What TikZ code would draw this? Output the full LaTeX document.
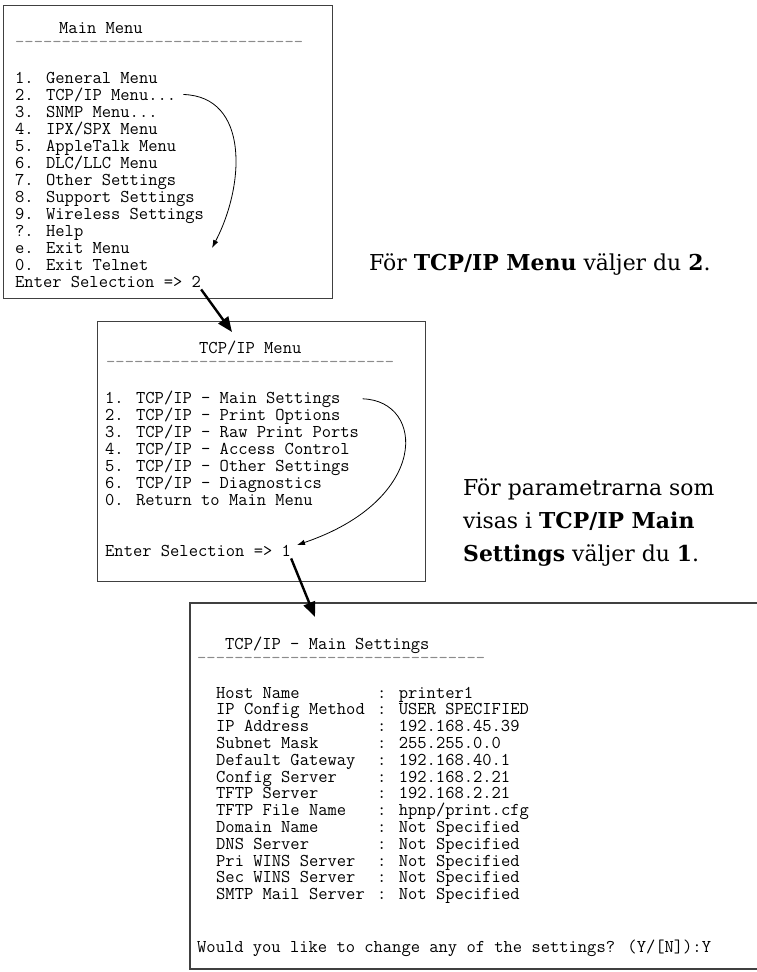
\documentclass[tikz,border=0pt]{standalone}
\usepackage{fontspec}
\newfontfamily\notefont{DejaVu Serif}
\usetikzlibrary{arrows.meta}

\tikzset{
  screen/.style={draw=black!75, line width=1.3bp, inner sep=0pt, anchor=north west},
  mono/.style={font=\ttfamily\fontsize{18.1pt}{17pt}\selectfont, inner sep=0pt, anchor=base west, text=black},
  note/.style={font=\notefont\fontsize{22pt}{33pt}\selectfont, inner sep=0pt, anchor=base west},
  pick/.style={line width=0.8bp, -{Latex[length=8bp,width=5.5bp]}},
  nextstep/.style={line width=2.4bp, -{Triangle[length=15bp,width=12bp]}},
}

% a row of 31 grey hyphens, kept apart so no ligature forms
\newcommand\dashrow{\textcolor{black!45}{\foreach \j in {1,...,31}{-\kern0pt}}}

% screen heading: an indented title sitting 14bp above the hyphen row
\newcommand\screenhead[2]{\rlap{\raisebox{14bp}{\hspace*{#1}#2}}\dashrow}

% one "name : value" row of the settings screen
\newcommand\settingrow[4]{%
  \node[mono] (#1k) at (216,#2) {#3};
  \node[mono] (#1v) at (377,#2) {: #4};}

\begin{document}
\begin{tikzpicture}[x=1bp, y=-1bp]
\useasboundingbox (0,0) rectangle (757,972);

% ---------- Main Menu screen ----------
\node[screen, minimum width=329bp, minimum height=293bp] (mainbox) at (3,5) {};
\node[mono] (mhead) at (15,47) {\screenhead{44bp}{Main Menu}};
\node[mono] (m1)  at (15,83)  {1. General Menu};
\node[mono] (m2)  at (15,100) {2. TCP/IP Menu...};
\node[mono] (m3)  at (15,117) {3. SNMP Menu...};
\node[mono] (m4)  at (15,134) {4. IPX/SPX Menu};
\node[mono] (m5)  at (15,151) {5. AppleTalk Menu};
\node[mono] (m6)  at (15,168) {6. DLC/LLC Menu};
\node[mono] (m7)  at (15,185) {7. Other Settings};
\node[mono] (m8)  at (15,202) {8. Support Settings};
\node[mono] (m9)  at (15,219) {9. Wireless Settings};
\node[mono] (m10) at (15,236) {?. Help};
\node[mono] (m11) at (15,253) {e. Exit Menu};
\node[mono] (m12) at (15,270) {0. Exit Telnet};
\node[mono] (m13) at (15,287) {Enter Selection => 2};

\node[note] (hint1) at (369,270) {För \textbf{TCP/IP Menu} väljer du \textbf{2}.};

% ---------- TCP/IP Menu screen ----------
\node[screen, minimum width=328bp, minimum height=260bp] (tcpbox) at (97,321) {};
\node[mono] (thead) at (106,367) {\screenhead{93bp}{TCP/IP Menu}};
\node[mono] (t1) at (105,403) {1. TCP/IP - Main Settings};
\node[mono] (t2) at (105,420) {2. TCP/IP - Print Options};
\node[mono] (t3) at (105,437) {3. TCP/IP - Raw Print Ports};
\node[mono] (t4) at (105,454) {4. TCP/IP - Access Control};
\node[mono] (t5) at (105,471) {5. TCP/IP - Other Settings};
\node[mono] (t6) at (105,488) {6. TCP/IP - Diagnostics};
\node[mono] (t7) at (105,505) {0. Return to Main Menu};
\node[mono] (tE) at (105,556) {Enter Selection => 1};

\node[note] (hint2a) at (463,495) {För parametrarna som};
\node[note] (hint2b) at (463,528) {visas i \textbf{TCP/IP Main}};
\node[note] (hint2c) at (463,561) {\textbf{Settings} väljer du \textbf{1}.};

% ---------- TCP/IP - Main Settings screen (runs off the right edge) ----------
\draw[screen] (757,603) -| (190,969) -- (757,969);
\node[mono] (shead) at (197,663) {\screenhead{28bp}{TCP/IP - Main Settings}};
\settingrow{s1}{698}{Host Name}{printer1}
\settingrow{s2}{714.8}{IP Config Method}{USER SPECIFIED}
\settingrow{s3}{731.6}{IP Address}{192.168.45.39}
\settingrow{s4}{748.4}{Subnet Mask}{255.255.0.0}
\settingrow{s5}{765.2}{Default Gateway}{192.168.40.1}
\settingrow{s6}{782}{Config Server}{192.168.2.21}
\settingrow{s7}{798.8}{TFTP Server}{192.168.2.21}
\settingrow{s8}{815.6}{TFTP File Name}{hpnp/print.cfg}
\settingrow{s9}{832.4}{Domain Name}{Not Specified}
\settingrow{s10}{849.2}{DNS Server}{Not Specified}
\settingrow{s11}{866}{Pri WINS Server}{Not Specified}
\settingrow{s12}{882.8}{Sec WINS Server}{Not Specified}
\settingrow{s13}{899.6}{SMTP Mail Server}{Not Specified}
\node[mono] (sQ) at (197,952) {Would you like to change any of the settings? (Y/[N]):Y};

% ---------- connectors ----------
\coordinate (aEnd) at (212,248);
\draw[pick] ([xshift=7bp]m2.east) .. controls +(66,2) and +(33,-63) .. (aEnd);

\coordinate (bEnd) at (297,545);
\draw[pick] ([xshift=22bp]t1.east) .. controls +(63,2) and +(133,-45) .. (bEnd);

\coordinate (dn1) at (232,332);
\draw[nextstep] ([yshift=-2bp]m13.south east) -- (dn1);

\coordinate (dn2) at (315,617);
\draw[nextstep] ([yshift=-2bp]tE.south east) -- (dn2);
\end{tikzpicture}
\end{document}
